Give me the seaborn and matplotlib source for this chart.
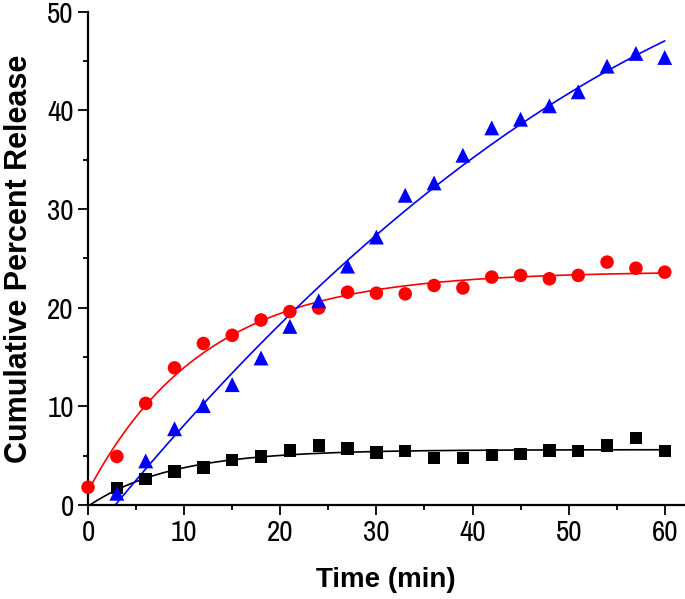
import matplotlib
matplotlib.use("Agg")
import matplotlib.pyplot as plt
from matplotlib import font_manager
import numpy as np
import pandas as pd
import seaborn as sns

# Time points (min) and cumulative release (%)
time_black = [3, 6, 9, 12, 15, 18, 21, 24, 27, 30, 33, 36, 39, 42, 45, 48, 51, 54, 57, 60]
release_black = [1.7, 2.64, 3.39, 3.8, 4.58, 4.92, 5.53, 6.03, 5.73, 5.32, 5.49, 4.75, 4.75,
                 5.08, 5.15, 5.53, 5.49, 6.03, 6.78, 5.49]

time_red = [0, 3, 6, 9, 12, 15, 18, 21, 24, 27, 30, 33, 36, 39, 42, 45, 48, 51, 54, 57, 60]
release_red = [1.8, 4.92, 10.3, 13.9, 16.37, 17.2, 18.75, 19.6, 19.97, 21.57, 21.47, 21.4,
               22.25, 22.0, 23.1, 23.27, 22.93, 23.27, 24.62, 24.0, 23.6]

time_blue = [3, 6, 9, 12, 15, 18, 21, 24, 27, 30, 33, 36, 39, 42, 45, 48, 51, 54, 57, 60]
release_blue = [1.19, 4.47, 7.73, 10.07, 12.2, 14.9, 18.1, 20.7, 24.21, 27.16, 31.39, 32.64,
                35.45, 38.22, 39.1, 40.46, 41.88, 44.48, 45.77, 45.36]

x_ticks = [0, 10, 20, 30, 40, 50, 60]
y_ticks = [0, 10, 20, 30, 40, 50]

FONT = ["Liberation Sans", "Arial", "DejaVu Sans"]

# pick a narrow Arial-like face for the tick numbers if one is installed
installed = {f.name for f in font_manager.fontManager.ttflist}
narrow = [n for n in ["Liberation Sans Narrow", "Arial Narrow", "Archivo Narrow",
                      "Roboto Condensed", "PT Sans Narrow"] if n in installed]
NARROW = narrow[:1] + FONT


def exp_fit(t, y):
    # y = a + b*exp(-k t), grid search over k, linear least squares for a, b
    t = np.asarray(t, float)
    y = np.asarray(y, float)
    best = None
    for k in np.linspace(0.005, 0.5, 1000):
        A = np.column_stack([np.ones_like(t), np.exp(-k * t)])
        coef = np.linalg.lstsq(A, y, rcond=None)[0]
        err = ((A @ coef - y) ** 2).sum()
        if best is None or err < best[0]:
            best = (err, k, coef)
    _, k, (a, b) = best
    return lambda tt: a + b * np.exp(-k * tt)


sns.set_style("ticks")
plt.rcParams['font.family'] = FONT
plt.rcParams['text.color'] = "black"
plt.rcParams['axes.labelcolor'] = "black"
plt.rcParams['xtick.color'] = "black"
plt.rcParams['ytick.color'] = "black"
plt.rcParams['axes.edgecolor'] = "black"

fig = plt.figure(figsize=(6.85, 5.99), dpi=100)
ax = fig.add_axes([0.1285, 0.1569, 0.870, 0.8236])

t_fit = np.linspace(0, 60, 300)
fit_black = exp_fit(time_black, release_black)(t_fit)
fit_red = exp_fit(time_red, release_red)(t_fit)
fit_blue = np.polyval(np.polyfit(time_blue, release_blue, 2), t_fit)

sns.lineplot(x=t_fit, y=fit_black, color="black", lw=1.2, ax=ax, zorder=2)
sns.lineplot(x=t_fit, y=fit_red, color="#ff0000", lw=1.2, ax=ax, zorder=2)
sns.lineplot(x=t_fit, y=fit_blue, color="#0000ff", lw=1.2, ax=ax, zorder=2)

sns.scatterplot(x=time_black, y=release_black, marker="s", s=80, color="black",
                edgecolor="none", ax=ax, zorder=3, clip_on=False)
sns.scatterplot(x=time_red, y=release_red, marker="o", s=95, color="#ff0000",
                edgecolor="none", ax=ax, zorder=3, clip_on=False)
sns.scatterplot(x=time_blue, y=release_blue, marker="^", s=115, color="#0000ff",
                edgecolor="none", ax=ax, zorder=3, clip_on=False)

ax.set_xlim(0, 62)
ax.set_ylim(0, 50)
ax.set_xticks(x_ticks)
ax.set_yticks(y_ticks)
ax.set_xticks(np.arange(5, 60, 10), minor=True)
ax.set_yticks(np.arange(5, 50, 10), minor=True)
ax.tick_params(which="major", length=7.2, width=1.3, direction="out", labelsize=21, pad=3)
ax.tick_params(which="minor", length=3.8, width=1.3, direction="out")
for lab in ax.get_xticklabels() + ax.get_yticklabels():
    lab.set_family(NARROW)

sns.despine(ax=ax)
for s in ["left", "bottom"]:
    ax.spines[s].set_linewidth(1.6)

ax.set_xlabel("Time (min)", fontsize=20, fontweight="bold")
ax.set_ylabel("Cumulative Percent Release", fontsize=22, fontweight="bold")
ax.xaxis.set_label_coords(0.5, -0.125)
ax.yaxis.set_label_coords(-0.09, 0.5)

plt.savefig("out.png", dpi=100)
